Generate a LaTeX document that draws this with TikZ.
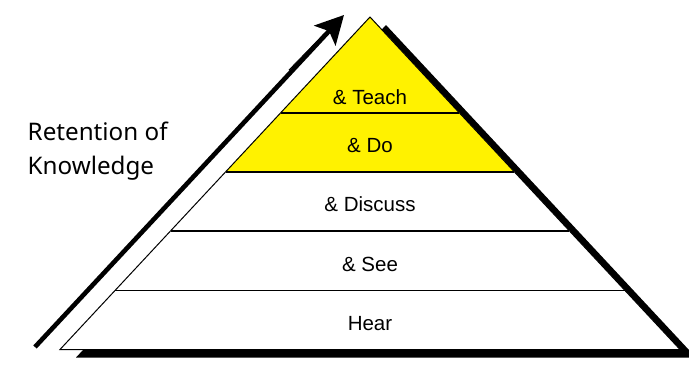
\documentclass[tikz,border=0pt]{standalone}
\usepackage{fontspec}
\setmainfont{Liberation Sans}
\newfontfamily\notofont{Noto Sans}
\usepackage{tikz}
\usetikzlibrary{positioning}
\usetikzlibrary{calc}
\usetikzlibrary{arrows.meta}
\tikzstyle{dropshadow} = [fill=black]
\tikzstyle{tier} = [draw=black, line width=1pt]
\tikzstyle{divider} = [draw=black, line width=1.6pt]
\tikzstyle{tiertext} = [anchor=base, inner sep=0pt, font=\fontsize{20.5}{24}\selectfont]
\tikzstyle{sidetext} = [anchor=base west, inner sep=0pt, font=\notofont\fontsize{24.2}{29}\selectfont]
\tikzstyle{rise} = [draw, line width=4.6pt, -{Stealth[length=28pt, width=29pt, inset=6pt]}]

\begin{document}
\begin{tikzpicture}[x=1pt, y=-1pt]
    \useasboundingbox (0,0) rectangle (689,375);
    \coordinate (apex) at (370,17);
    \coordinate (bl) at (60,349.5);
    \coordinate (br) at (680,349.5);
    % shadow behind the pyramid
    \fill[dropshadow] ([shift={(16,8)}]apex) -- ([shift={(16,8)}]br) -- ([shift={(16,8)}]bl) -- cycle;
    \fill[white] (apex) -- (br) -- (bl) -- cycle;
    % top two tiers
    \fill[yellow] (apex) -- ($(apex)!0.466!(br)$) -- ($(apex)!0.466!(bl)$) -- cycle;
    \draw[tier] (apex) -- (br) -- (bl) -- cycle;
    \foreach \t in {0.288,0.466,0.643,0.823}
        \draw[divider] ($(apex)!\t!(bl)$) -- ($(apex)!\t!(br)$);
    \node[tiertext] (teach) at (370,104) {\& Teach};
    \node[tiertext] (do) at (370,152.7) {\& Do};
    \node[tiertext] (discuss) at (370,211.7) {\& Discuss};
    \node[tiertext] (see) at (370,271.7) {\& See};
    \node[tiertext] (hear) at (370,330) {Hear};
    % arrow up the left side
    \coordinate (foot) at (35,347);
    \coordinate (tip) at (344,15);
    \path[rise] (foot) -- (tip);
    \coordinate (glintA) at (289,70);
    \coordinate (glintB) at (325,33);
    \draw[line width=0.9pt] (glintA) -- (glintB);
    \node[sidetext] (ret) at (27.5,140.7) {Retention of};
    \node[sidetext] (know) at (27.5,174.3) {Knowledge};
\end{tikzpicture}
\end{document}
